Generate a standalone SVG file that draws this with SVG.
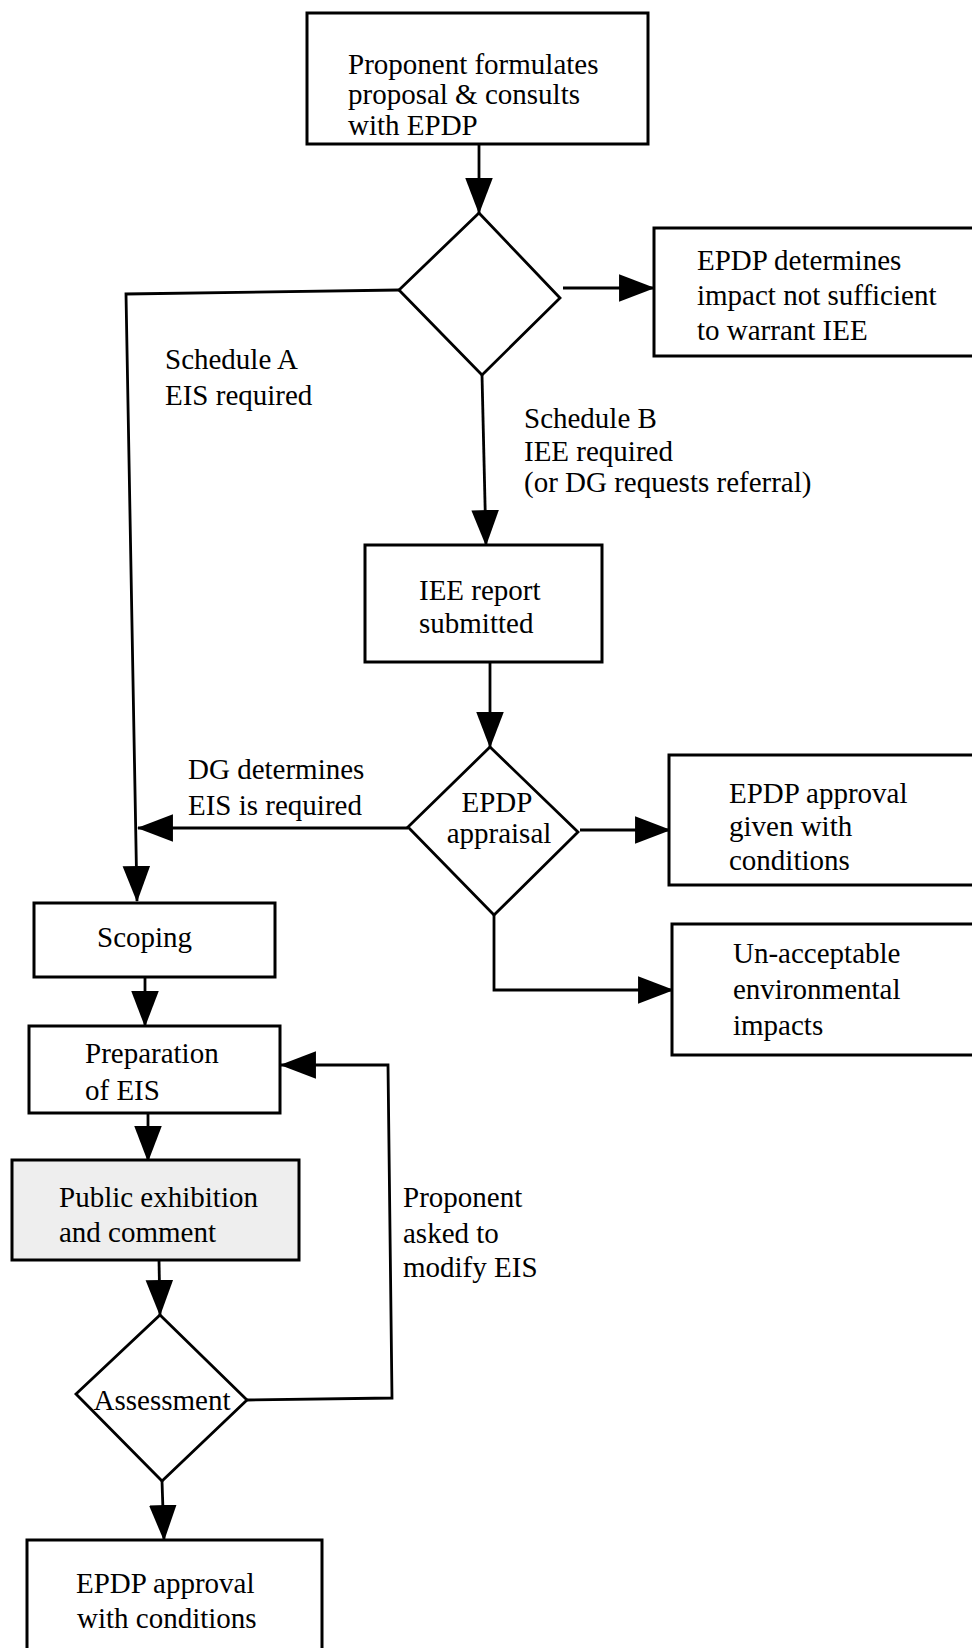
<svg xmlns="http://www.w3.org/2000/svg" width="972" height="1648" viewBox="0 0 972 1648">
<style>
  .box { fill: #ffffff; stroke: #000; stroke-width: 3; }
  .shaded { fill: #eeeeee; stroke: #000; stroke-width: 3; }
  .dia { fill: #ffffff; stroke: #000; stroke-width: 2.8; stroke-linejoin: miter; }
  .conn { fill: none; stroke: #000; stroke-width: 2.8; }
  text { font-family: "Liberation Serif", "Times New Roman", serif; font-size: 29px; fill: #000; }
  .mid { text-anchor: middle; }
</style>
<defs>
  <marker id="arr" markerUnits="userSpaceOnUse" markerWidth="36" markerHeight="28" viewBox="0 0 34 26" refX="33" refY="13" orient="auto">
    <path d="M0,0 L34,13 L0,26 Z" fill="#000"/>
  </marker>
</defs>
<rect width="972" height="1648" fill="#ffffff"/>

<g id="connectors">
  <path class="conn" d="M479,144 L479,213" marker-end="url(#arr)"/>
  <path class="conn" d="M563,288 L654,288" marker-end="url(#arr)"/>
  <path class="conn" d="M399,290 L126,294 L137,901" marker-end="url(#arr)"/>
  <path class="conn" d="M482,375 L486,545" marker-end="url(#arr)"/>
  <path class="conn" d="M490,662 L490,747" marker-end="url(#arr)"/>
  <path class="conn" d="M408,828 L138,828" marker-end="url(#arr)"/>
  <path class="conn" d="M580,830 L670,830" marker-end="url(#arr)"/>
  <path class="conn" d="M494,915 L494,990 L673,990" marker-end="url(#arr)"/>
  <path class="conn" d="M145,977 L145,1026" marker-end="url(#arr)"/>
  <path class="conn" d="M148,1113 L148,1161" marker-end="url(#arr)"/>
  <path class="conn" d="M159,1260 L160,1315" marker-end="url(#arr)"/>
  <path class="conn" d="M247,1400 L392,1398 L388,1065 L281,1065" marker-end="url(#arr)"/>
  <path class="conn" d="M162,1481 L164,1540" marker-end="url(#arr)"/>
</g>

<g id="n-proponent">
  <rect class="box" x="307" y="13" width="341" height="131"/>
  <text x="348" y="74">Proponent formulates</text>
  <text x="348" y="104">proposal &amp; consults</text>
  <text x="348" y="135">with EPDP</text>
</g>

<g id="n-decision1">
  <polygon class="dia" points="479,213 560,298 482,375 399,290"/>
</g>

<g id="n-notsufficient">
  <rect class="box" x="654" y="228" width="322" height="128"/>
  <text x="697" y="270">EPDP determines</text>
  <text x="697" y="305">impact not sufficient</text>
  <text x="697" y="340">to warrant IEE</text>
</g>

<g id="l-scheduleA">
  <text x="165" y="369">Schedule A</text>
  <text x="165" y="405">EIS required</text>
</g>

<g id="l-scheduleB">
  <text x="524" y="428">Schedule B</text>
  <text x="524" y="461">IEE required</text>
  <text x="524" y="492">(or DG requests referral)</text>
</g>

<g id="n-iee">
  <rect class="box" x="365" y="545" width="237" height="117"/>
  <text x="419" y="600">IEE report</text>
  <text x="419" y="633">submitted</text>
</g>

<g id="n-appraisal">
  <polygon class="dia" points="490,747 578,832 494,915 408,827"/>
  <text class="mid" x="497" y="812">EPDP</text>
  <text class="mid" x="499" y="843">appraisal</text>
</g>

<g id="l-dg">
  <text x="188" y="779">DG determines</text>
  <text x="188" y="815">EIS is required</text>
</g>

<g id="n-approval1">
  <rect class="box" x="669" y="755" width="307" height="130"/>
  <text x="729" y="803">EPDP approval</text>
  <text x="729" y="836">given with</text>
  <text x="729" y="870">conditions</text>
</g>

<g id="n-unacceptable">
  <rect class="box" x="672" y="924" width="304" height="131"/>
  <text x="733" y="963">Un-acceptable</text>
  <text x="733" y="999">environmental</text>
  <text x="733" y="1035">impacts</text>
</g>

<g id="n-scoping">
  <rect class="box" x="34" y="903" width="241" height="74"/>
  <text x="97" y="947">Scoping</text>
</g>

<g id="n-preparation">
  <rect class="box" x="29" y="1026" width="251" height="87"/>
  <text x="85" y="1063">Preparation</text>
  <text x="85" y="1100">of EIS</text>
</g>

<g id="n-public">
  <rect class="shaded" x="12" y="1160" width="287" height="100"/>
  <text x="59" y="1207">Public exhibition</text>
  <text x="59" y="1242">and comment</text>
</g>

<g id="l-modify">
  <text x="403" y="1207">Proponent</text>
  <text x="403" y="1243">asked to</text>
  <text x="403" y="1277">modify EIS</text>
</g>

<g id="n-assessment">
  <polygon class="dia" points="160,1315 247,1400 162,1481 76,1394"/>
  <text class="mid" x="162" y="1410">Assessment</text>
</g>

<g id="n-approval2">
  <rect class="box" x="27" y="1540" width="295" height="115"/>
  <text x="76" y="1593">EPDP approval</text>
  <text x="77" y="1628">with conditions</text>
</g>
</svg>
